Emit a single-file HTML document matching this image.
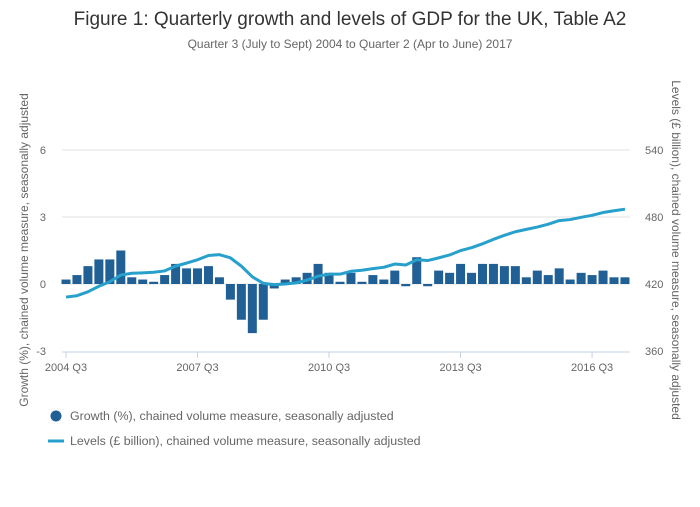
<!DOCTYPE html>
<html><head><meta charset="utf-8"><style>
body{margin:0;background:#fff;font-family:"Liberation Sans",sans-serif}
svg text{font-family:"Liberation Sans",sans-serif}
</style></head><body>
<svg id="c" width="700" height="502" xmlns="http://www.w3.org/2000/svg">
<text x="350" y="25" text-anchor="middle" font-size="19" fill="#333">Figure 1: Quarterly growth and levels of GDP for the UK, Table A2</text>
<text x="350" y="48" text-anchor="middle" font-size="12" fill="#666">Quarter 3 (July to Sept) 2004 to Quarter 2 (Apr to June) 2017</text>
<text transform="translate(28,250) rotate(-90)" text-anchor="middle" font-size="12" fill="#666">Growth (%), chained volume measure, seasonally adjusted</text>
<text transform="translate(672,250) rotate(90)" text-anchor="middle" font-size="12" fill="#666">Levels (£ billion), chained volume measure, seasonally adjusted</text>
<g id="grid"></g><g id="bars"></g><g id="line"></g><g id="axes"></g>
<g>
<g><circle cx="56" cy="416" r="5.5" fill="#206095"/><text x="70" y="420" font-size="12.4" fill="#666">Growth (%), chained volume measure, seasonally adjusted</text></g>
<g><line x1="48" y1="441" x2="64" y2="441" stroke="#27a0cc" stroke-width="3"/><text x="70" y="445" font-size="12.4" fill="#666">Levels (£ billion), chained volume measure, seasonally adjusted</text></g>
</g>
</svg>
<script>
const growth=[0.2,0.4,0.8,1.1,1.1,1.5,0.3,0.2,0.1,0.4,0.9,0.7,0.7,0.8,0.3,-0.7,-1.6,-2.2,-1.6,-0.2,0.2,0.3,0.5,0.9,0.5,0.1,0.5,0.1,0.4,0.2,0.6,-0.1,1.2,-0.1,0.6,0.5,0.9,0.5,0.9,0.9,0.8,0.8,0.3,0.6,0.4,0.7,0.2,0.5,0.4,0.6,0.3,0.3];
const levels=[408.3,409.5,413,418,422,428,429.6,430,430.5,431.7,436,438.7,441.7,445.5,446.3,443.4,436,426.4,420.6,419.4,420,421,423.5,427,428.8,428.8,431.4,432.3,433.8,435,437.9,437,441.7,441,443.4,446,449.9,452.5,456,460,463.6,466.8,468.9,471,473.6,476.8,477.7,479.7,481.5,484,485.6,487];
const leftTicks=[-3,0,3,6];
const rightTicks=["360","420","480","540"];
const rightTickVals=[360,420,480,540];
const xTickIdx=[0,12,24,36,48];
const xTickLabels=["2004 Q3","2007 Q3","2010 Q3","2013 Q3","2016 Q3"];
const NS="http://www.w3.org/2000/svg";
const x=i=>66+i*10.96;
const yL=v=>284-v*(67/3);
const yR=v=>284-(v-420)*(67/60);
function mk(t,a,p){const e=document.createElementNS(NS,t);for(const k in a)e.setAttribute(k,a[k]);p.appendChild(e);return e;}
const grid=document.getElementById('grid'),axes=document.getElementById('axes');
leftTicks.forEach((v,i)=>{
 if(v!==-3){const g=mk('line',{x1:62,x2:630,y1:yL(v),y2:yL(v),stroke:'#e0e0e0','stroke-width':1},grid);}
 const t=mk('text',{x:46,y:yL(v)+4,'text-anchor':'end','font-size':11,fill:'#666'},axes);t.textContent=v;
 
});
rightTickVals.forEach((v,i)=>{const t=mk('text',{x:645,y:yR(v)+4,'font-size':11,fill:'#666'},axes);t.textContent=rightTicks[i];
 });
const ax=mk('line',{x1:62,x2:630,y1:352,y2:352,stroke:'#c5d0e6','stroke-width':1},axes);

xTickIdx.forEach((q,i)=>{mk('line',{x1:x(q),x2:x(q),y1:352,y2:358,stroke:'#c5d0e6'},axes);
 const t=mk('text',{x:x(q),y:371,'text-anchor':'middle','font-size':11,fill:'#666'},axes);t.textContent=xTickLabels[i];
 });
const bars=document.getElementById('bars');
growth.forEach((v,i)=>{const y0=yL(0),y1=yL(v);
 const r=mk('rect',{x:x(i)-4.5,y:Math.min(y0,y1),width:9,height:Math.max(Math.abs(y1-y0),0.5),fill:'#206095'},bars);
 });
const p=mk('polyline',{points:levels.map((v,i)=>x(i)+','+yR(v)).join(' '),fill:'none',stroke:'#27a0cc','stroke-width':3,'stroke-linejoin':'round'},document.getElementById('line'));

</script>
</body></html>
